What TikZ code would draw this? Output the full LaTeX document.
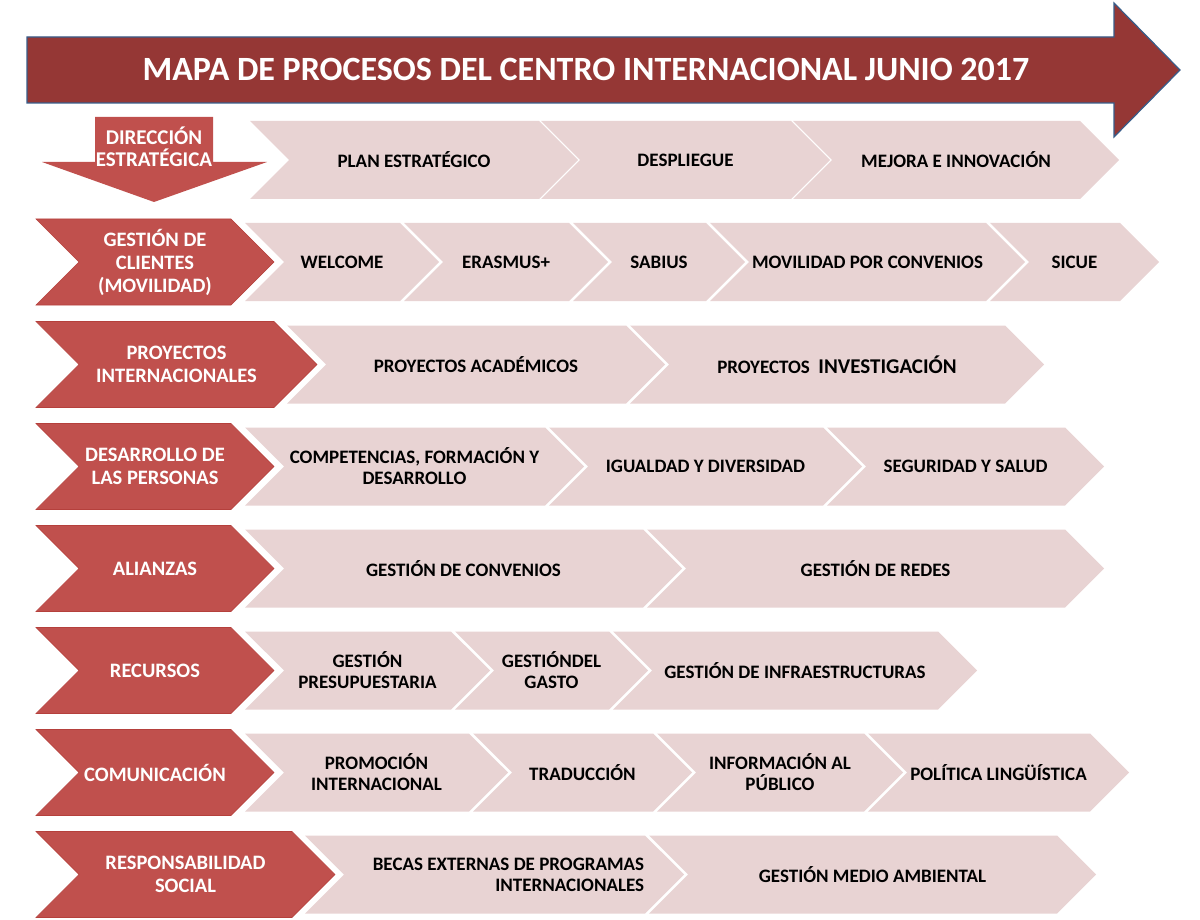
\documentclass[tikz,border=0pt]{standalone}
\usepackage{fontspec}
\setmainfont{Carlito}
\usetikzlibrary{shapes.symbols}

\definecolor{titlered}{HTML}{953735}
\definecolor{titleblue}{HTML}{385D8A}
\definecolor{procred}{HTML}{C0504D}
\definecolor{procedge}{HTML}{B5403C}
\definecolor{taskpink}{HTML}{E8D3D3}

\begin{document}
\begin{tikzpicture}[
    x=1pt, y=-1pt,
    proc/.style={signal, signal to=east, signal from=west, fill=procred, draw=procedge, line width=0.6pt, minimum height=86pt, inner sep=0pt, align=center, text=white, font=\fontsize{20.5}{23}\selectfont\bfseries},
    task/.style={signal, signal to=east, signal from=west, fill=taskpink, minimum height=78pt, inner sep=0pt, align=center, font=\fontsize{19}{21}\selectfont\bfseries}
  ]
    \useasboundingbox (0,0) rectangle (1200,920);

    % title arrow
    \filldraw[fill=titlered, draw=titleblue, line width=1.2pt] (27,37) -- (1114,37) -- (1114,3) -- (1180,70) -- (1114,137) -- (1114,103) -- (27,103) -- cycle;
    \node[text=white, font=\fontsize{34}{40}\selectfont\bfseries] (title) at (586,69.5) {MAPA DE PROCESOS DEL CENTRO INTERNACIONAL JUNIO 2017};

    % direccion estrategica
    \fill[procred] (95,117) -- (213,117) -- (213,162) -- (267,162) -- (154,202) -- (42,162) -- (95,162) -- cycle;
    \node[align=center, text=white, font=\fontsize{21}{22}\selectfont\bfseries] (dir) at (154,146.5) {DIRECCIÓN\\ESTRATÉGICA};
    \node[task, minimum width=328pt] (plan) at (414,160) {PLAN ESTRATÉGICO};
    \node[task, minimum width=289pt] (despliegue) at (685.5,160) {DESPLIEGUE};
    \node[task, minimum width=326pt] (mejora) at (956,160) {MEJORA E INNOVACIÓN};

    % clientes
    \node[proc, minimum width=238pt] (clientes) at (155,262) {GESTIÓN DE\\CLIENTES\\(MOVILIDAD)};
    \node[task, minimum width=194pt] (welcome) at (342,262) {WELCOME};
    \node[task, minimum width=204pt] (erasmus) at (506,262) {ERASMUS+};
    \node[task, minimum width=172pt] (sabius) at (659,262) {SABIUS};
    \node[task, minimum width=315pt] (movilidad) at (867.5,262) {MOVILIDAD POR CONVENIOS};
    \node[task, minimum width=169pt] (sicue) at (1074.5,262) {SICUE};

    % proyectos
    \node[proc, minimum width=281pt] (proyectos) at (176.5,364.5) {PROYECTOS\\INTERNACIONALES};
    \node[task, minimum width=378pt] (academicos) at (476,364.5) {PROYECTOS ACADÉMICOS};
    \node[task, minimum width=414pt] (investigacion) at (837,364.5) {PROYECTOS~~{\fontsize{21}{24}\selectfont INVESTIGACIÓN}};

    % personas
    \node[proc, minimum width=238pt] (personas) at (155,466.5) {DESARROLLO DE\\LAS PERSONAS};
    \node[task, minimum width=339pt] (competencias) at (414.5,466.5) {COMPETENCIAS, FORMACIÓN Y\\DESARROLLO};
    \node[task, minimum width=313pt] (igualdad) at (705.5,466.5) {IGUALDAD Y DIVERSIDAD};
    \node[task, minimum width=277pt] (seguridad) at (965.5,466.5) {SEGURIDAD Y SALUD};

    % alianzas
    \node[proc, minimum width=238pt] (alianzas) at (155,568.5) {ALIANZAS};
    \node[task, minimum width=437pt] (convenios) at (463.5,568.5) {GESTIÓN DE CONVENIOS};
    \node[task, minimum width=457pt] (redes) at (875.5,568.5) {GESTIÓN DE REDES};

    % recursos
    \node[proc, minimum width=238pt] (recursos) at (155,670.5) {RECURSOS};
    \node[task, minimum width=245pt] (presupuesto) at (367.5,670.5) {GESTIÓN\\PRESUPUESTARIA};
    \node[task, minimum width=193pt] (gasto) at (551.5,670.5) {GESTIÓNDEL\\GASTO};
    \node[task, minimum width=364pt] (infra) at (795,670.5) {GESTIÓN DE INFRAESTRUCTURAS};

    % comunicacion
    \node[proc, minimum width=238pt] (comunicacion) at (155,772.5) {COMUNICACIÓN};
    \node[task, minimum width=263pt] (promocion) at (376.5,772.5) {PROMOCIÓN\\INTERNACIONAL};
    \node[task, minimum width=219pt] (traduccion) at (582.5,772.5) {TRADUCCIÓN};
    \node[task, minimum width=246pt] (informacion) at (780,772.5) {INFORMACIÓN AL\\PÚBLICO};
    \node[task, minimum width=261pt] (politica) at (998.5,772.5) {POLÍTICA LINGÜÍSTICA};

    % responsabilidad social
    \node[proc, minimum width=299pt] (social) at (185.5,874.5) {RESPONSABILIDAD\\SOCIAL};
    \node[task, minimum width=379pt, align=right] (becas) at (494.5,874.5) {\hspace*{28pt}BECAS EXTERNAS DE PROGRAMAS\\INTERNACIONALES};
    \node[task, minimum width=447pt] (medio) at (872.5,874.5) {GESTIÓN MEDIO AMBIENTAL};
\end{tikzpicture}
\end{document}
